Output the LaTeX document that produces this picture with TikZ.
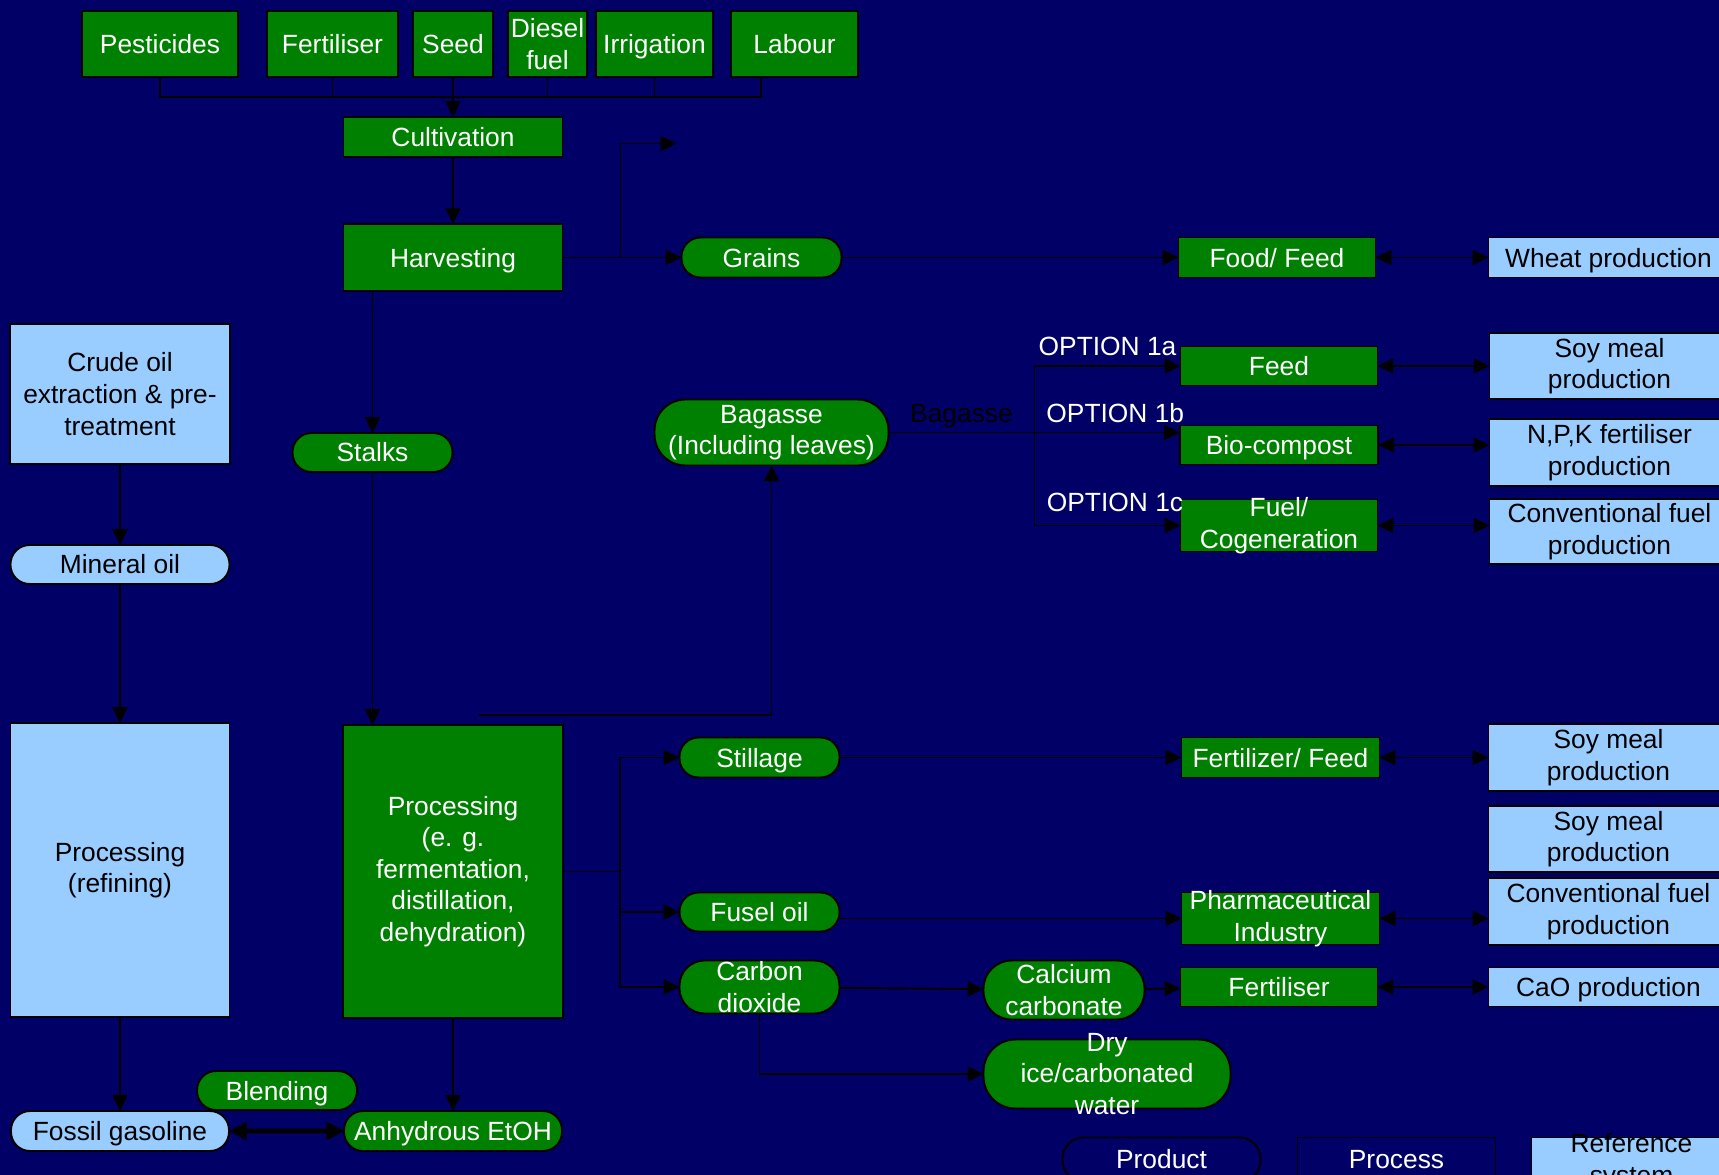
\documentclass[tikz,border=0pt]{standalone}
\usepackage{fontspec}
\setmainfont{Liberation Sans}
\usetikzlibrary{arrows.meta, positioning}
\definecolor{bgnavy}{RGB}{0,0,102}
\definecolor{pgreen}{RGB}{0,128,0}
\definecolor{refblue}{RGB}{153,204,255}

\begin{document}
\begin{tikzpicture}[
	every node/.style={font=\fontsize{15}{18}\selectfont},
	procbox/.style={draw=black, line width=1.1pt, fill=pgreen, text=white, outer sep=0pt,
		align=center, inner sep=1pt, minimum width=3.94cm, minimum height=0.80cm},
	prodbox/.style={procbox, rounded corners=0.38cm, minimum width=3.2cm},
	refbox/.style={draw=black, line width=1.1pt, fill=refblue, text=black, outer sep=0pt,
		align=center, inner sep=1pt, minimum width=4.8cm, minimum height=1.32cm},
	refpill/.style={refbox, rounded corners=0.38cm, minimum width=4.38cm,
		minimum height=0.78cm},
	legbox/.style={draw=black, line width=1.1pt, fill=bgnavy, text=white, outer sep=0pt,
		minimum width=3.96cm, minimum height=0.88cm},
	flat/.style={text depth=0pt},
	inlbl/.style={label={[align=center, text=white]center:#1}},
	conn/.style={line width=1.1pt},
	arr/.style={-{Triangle[length=9pt, width=8.5pt]}, line width=1.1pt},
	darr/.style={{Triangle[length=9pt, width=8.5pt]}-{Triangle[length=9pt, width=8.5pt]},
		line width=1.1pt},
	thickdarr/.style={{Triangle[length=10pt, width=10pt]}-{Triangle[length=10pt, width=10pt]},
		line width=2.6pt},
	note/.style={text=white, inner sep=5pt},
	]
	\useasboundingbox (0,0) rectangle (34.38,-23.50);
	\fill[bgnavy] (0,0) rectangle (34.38,-23.50);

	% =============================================================
	%  INPUTS AND CULTIVATION
	% =============================================================
	\node[procbox, minimum width=3.12cm, minimum height=1.32cm] (pest) at (3.20,-0.88) {Pesticides};
	\node[procbox, minimum width=2.62cm, minimum height=1.32cm, right=0.58cm of pest] (fert) {Fertiliser};
	\node[procbox, minimum width=1.60cm, minimum height=1.32cm, right=0.30cm of fert] (seed) {Seed};
	\node[procbox, minimum width=1.58cm, minimum height=1.32cm, right=0.30cm of seed] (diesel) {Diesel\\fuel};
	\node[procbox, flat, minimum width=2.34cm, minimum height=1.32cm, right=0.18cm of diesel] (irrig) {Irrigation};
	\node[procbox, minimum width=2.54cm, minimum height=1.32cm, right=0.36cm of irrig] (labour) {Labour};

	\node[procbox, minimum width=4.38cm, below=0.80cm of seed] (cult) {Cultivation};
	\node[procbox, flat, minimum width=4.38cm, minimum height=1.34cm, below=1.34cm of cult] (harv) {Harvesting};

	% --- Grains route ---
	\node[prodbox, flat, right=2.38cm of harv] (grains) {Grains};
	\node[procbox, flat, right=6.74cm of grains] (foodfeed) {Food/ Feed};
	\node[refbox, flat, minimum height=0.80cm, right=2.26cm of foodfeed] (wheat) {Wheat production};

	% --- Bagasse options ---
	\node[prodbox, minimum width=4.68cm, minimum height=1.32cm, rounded corners=0.62cm,
	below=2.44cm of grains, xshift=0.20cm] (bag) {Bagasse\\(Including leaves)};
	\node[procbox, minimum height=0.78cm, below=1.38cm of foodfeed, xshift=0.04cm] (feed) {Feed};
	\node[procbox, flat, minimum width=3.96cm, minimum height=0.78cm, below=0.80cm of feed] (bio) {Bio-compost};
	\node[procbox, minimum height=1.04cm, inlbl={Fuel/\\Cogeneration}, below=0.70cm of bio] (fuel) {};
	\node[refbox, right=2.24cm of feed] (soy1) {Soy meal\\production};
	\node[refbox, minimum height=1.34cm, below=0.40cm of soy1] (npk) {N,P,K fertiliser\\production};
	\node[refbox, minimum height=1.30cm, below=0.26cm of npk] (conv1) {Conventional fuel\\production};

	% =============================================================
	%  ETHANOL LINE AND REFERENCE FUEL
	% =============================================================
	\node[prodbox, minimum height=0.78cm, below=2.84cm of harv, xshift=-1.61cm] (stalks) {Stalks};
	\node[procbox, minimum width=4.40cm, minimum height=5.86cm, below=8.68cm of harv] (proc)
	{Processing\\(e. g.\\fermentation,\\distillation,\\dehydration)};
	\node[prodbox, flat, minimum width=4.36cm, below=1.86cm of proc] (etoh) {Anhydrous EtOH};
	\node[prodbox, flat, minimum height=0.78cm, above=0.02cm of etoh, xshift=-3.52cm] (blend) {Blending};

	\node[refbox, minimum width=4.40cm, minimum height=2.80cm, below=4.94cm of pest, xshift=-0.80cm] (crude)
	{Crude oil\\extraction \& pre-\\treatment};
	\node[refpill, below=1.62cm of crude] (mineral) {Mineral oil};
	\node[refbox, minimum width=4.38cm, minimum height=5.88cm, below=2.78cm of mineral] (refine)
	{Processing\\(refining)};
	\node[refpill, flat, minimum width=4.36cm, minimum height=0.80cm, below=1.88cm of refine] (fossil) {Fossil gasoline};

	% --- Co-products ---
	\node[prodbox, flat, below=5.44cm of bag, xshift=-0.24cm] (still) {Stillage};
	\node[prodbox, minimum height=0.78cm, below=2.30cm of still] (fusel) {Fusel oil};
	\node[prodbox, minimum height=1.06cm, rounded corners=0.5cm, inlbl={Carbon\\dioxide},
	below=0.58cm of fusel] (co2) {};
	\node[prodbox, minimum width=3.22cm, minimum height=1.18cm, rounded corners=0.56cm,
	inlbl={Calcium\\carbonate}, right=2.88cm of co2, yshift=-0.06cm] (caco3) {};
	\node[prodbox, minimum width=4.94cm, minimum height=1.38cm, rounded corners=0.64cm,
	inlbl={Dry\\ice/carbonated\\water}, below=0.40cm of caco3.south west, anchor=north west] (dryice) {};

	\node[procbox, flat, minimum width=3.96cm, right=6.84cm of still] (fertfeed) {Fertilizer/ Feed};
	\node[procbox, minimum width=3.96cm, minimum height=1.04cm, inlbl={Pharmaceutical\\Industry},
	right=6.84cm of fusel, yshift=-0.13cm] (pharm) {};
	\node[procbox, minimum height=0.78cm, below=0.46cm of pharm, xshift=-0.03cm] (fertil) {Fertiliser};
	\node[refbox, minimum height=1.34cm, right=2.18cm of fertfeed] (soy2) {Soy meal\\production};
	\node[refbox, below=0.30cm of soy2] (soy3) {Soy meal\\production};
	\node[refbox, minimum height=1.34cm, below=0.12cm of soy3] (conv2) {Conventional fuel\\production};
	\node[refbox, flat, minimum height=0.78cm, right=2.22cm of fertil] (cao) {CaO production};

	% --- Legend ---
	\node[legbox, rounded corners=0.42cm, below=0.58cm of dryice, xshift=1.09cm] (legprod) {Product};
	\node[legbox, right=0.74cm of legprod] (legproc) {Process};
	\node[refbox, minimum width=4.00cm, minimum height=0.96cm,
	right=0.72cm of legproc.north east, anchor=north west,
	label={[align=center]center:Reference\\system}] (legref) {};

	% ---- ARROWS: cultivation ----
	\coordinate (bus) at ([yshift=-0.4cm]pest.south);
	\draw[conn] (pest.south) -- (bus) -| ([xshift=-0.67cm]labour.south);
	\foreach \n in {fert, seed, diesel, irrig}
	\draw[conn] (\n.south) -- (\n.south |- bus);
	\draw[arr] (seed.south |- bus) -- (seed.south |- cult.north);
	\draw[arr] (cult) -- (harv);
	\draw[arr] (harv.east) -- (grains.west);
	\coordinate (hsplit) at ([xshift=1.16cm]harv.east);
	\coordinate (hfree) at ([xshift=2.28cm, yshift=2.28cm]harv.east);
	\draw[arr] (hsplit) |- (hfree);
	\draw[arr] (grains) -- (foodfeed);
	\draw[darr] (foodfeed) -- (wheat);

	% ---- ARROWS: bagasse ----
	\coordinate (bsplit) at ([xshift=-2.92cm]feed.west |- bag.east);
	\draw[conn] (bag.east) -- (bsplit)
	node[midway, above, text=black, inner sep=2pt] {Bagasse};
	\draw[arr] (bsplit) |- (feed.west)
	node[pos=0.75, above, note] {OPTION 1a};
	\draw[arr] (bsplit) -- (bsplit -| bio.west)
	node[midway, above, note, xshift=0.16cm] {OPTION 1b};
	\draw[arr] (bsplit) |- (fuel.west)
	node[pos=0.75, above, note, xshift=0.15cm, yshift=0.08cm] {OPTION 1c};
	\draw[darr] (feed) -- (soy1);
	\draw[darr] (bio.east) -- (bio.east -| npk.west);
	\draw[darr] (fuel.east) -- (fuel.east -| conv1.west);

	% ---- ARROWS: ethanol ----
	\draw[arr] (harv.south -| stalks.north) -- (stalks.north);
	\draw[arr] (stalks.south) -- (stalks.south |- proc.north);
	\coordinate (bfeed) at ([xshift=0.52cm, yshift=0.2cm]proc.north);
	\draw[arr] (bfeed) -| (bag.south);
	\draw[arr] (proc) -- (etoh);
	\draw[arr] (crude) -- (mineral);
	\draw[arr] (mineral) -- (refine);
	\draw[arr] (refine) -- (fossil);
	\draw[thickdarr] (fossil) -- (etoh);

	% ---- ARROWS: co-products ----
	\coordinate (psplit) at ([xshift=1.14cm]proc.east);
	\draw[conn] (proc.east) -- (psplit);
	\draw[arr] (psplit) |- (still.west);
	\draw[arr] (psplit) |- (fusel.west);
	\draw[arr] (psplit) |- (co2.west);
	\draw[arr] (still) -- (fertfeed);
	\draw[arr] (pharm.west -| fusel.east) -- (pharm.west);
	\draw[arr] (co2) -- (caco3);
	\draw[arr] (caco3) -- (fertil);
	\draw[arr] (co2.south) |- (dryice.west);
	\draw[darr] (fertfeed) -- (soy2);
	\draw[darr] (pharm.east) -- (pharm.east -| conv2.west);
	\draw[darr] (fertil) -- (cao);
\end{tikzpicture}
\end{document}
